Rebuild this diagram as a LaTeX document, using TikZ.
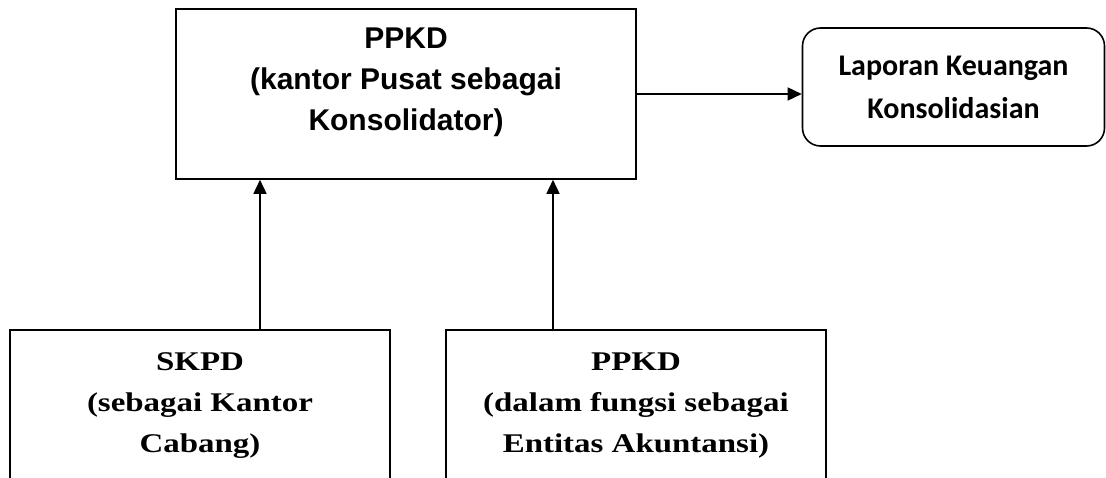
\documentclass[tikz,border=0pt]{standalone}
\usepackage{fontspec}
\usetikzlibrary{arrows.meta,positioning}
\newfontfamily\pusatfont{Liberation Sans}
\newfontfamily\lapfont{Carlito}
\newfontfamily\cabfont[FakeStretch=1.22]{Liberation Serif}

\begin{document}
\begin{tikzpicture}[
    x=1pt, y=-1pt,
    box/.style={rectangle, draw, line width=1.6pt, align=center, inner sep=0pt},
    arr/.style={-{Triangle[length=14pt, width=13pt]}, line width=1.6pt}
  ]
    \clip (0,0) rectangle (1106,478);
    \node[box, minimum width=460pt, minimum height=170pt, text depth=30pt,
      font={\pusatfont\bfseries\fontsize{30}{41}\selectfont}] (pusat) at (406,94)
      {PPKD\\(kantor Pusat sebagai\\Konsolidator)};
    \node[box, rounded corners=18pt, minimum width=302pt, minimum height=118pt,
      font={\lapfont\bfseries\fontsize{30}{43}\selectfont}] (lapkon) at (953.5,87)
      {Laporan Keuangan\\Konsolidasian};
    \node[box, minimum width=380pt, minimum height=200pt, text depth=54pt,
      font={\cabfont\bfseries\fontsize{27}{41}\selectfont}] (skpd) at (200,430)
      {SKPD\\(sebagai Kantor\\Cabang)};
    \node[box, minimum width=380pt, minimum height=200pt, text depth=54pt,
      font={\cabfont\bfseries\fontsize{27}{41}\selectfont}] (ppkd) at (636,430)
      {PPKD\\(dalam fungsi sebagai\\Entitas Akuntansi)};
    \draw[arr] ([xshift=-146pt]pusat.south |- skpd.north) -- ([xshift=-146pt]pusat.south);
    \draw[arr] ([xshift=147pt]pusat.south |- ppkd.north) -- ([xshift=147pt]pusat.south);
    \draw[arr] (pusat.east) -- (pusat.east -| lapkon.west);
  \end{tikzpicture}
\end{document}
